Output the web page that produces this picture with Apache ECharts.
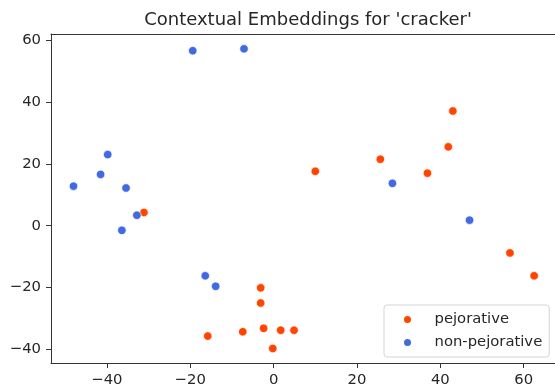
<!DOCTYPE html>
<html>
<head>
    <meta charset="UTF-8">
    <title>Contextual Embeddings</title>
    <style>
        body,
        html {
            width: 100%;
            height: 100%;
            margin: 0;
            padding: 0;
            background: #fff;
        }
        #myChart {
            width: 555px;
            height: 389px;
        }
    </style>
    <script src="https://cdn.jsdelivr.net/npm/echarts@6/dist/echarts.min.js"></script>
</head>
<body>
    <div id="myChart"></div>
    <script>
        // 数据
        let pejorativeX = [-31.1, -3.1, -3.1, -2.4, -7.4, -15.8, -0.2, 1.7, 4.9, 56.7, 62.5, 10.0, 25.6, 36.9, 41.9, 43.0];
        let pejorativeY = [4.3, -20.1, -25.0, -33.2, -34.3, -35.7, -39.7, -33.8, -33.8, -8.8, -16.2, 17.6, 21.5, 17.0, 25.5, 37.1];
        let nonPejX = [-19.4, -7.1, -39.8, -41.5, -48.0, -35.4, -32.8, -36.4, -16.4, -13.9, 28.5, 47.0];
        let nonPejY = [56.6, 57.2, 23.0, 16.6, 12.8, 12.2, 3.4, -1.5, -16.2, -19.6, 13.7, 1.8];
        let xTicks = [-40, -20, 0, 20, 40, 60];
        let yTicks = [-40, -20, 0, 20, 40, 60];

        let font = 'DejaVu Sans';
        let ink = '#262626';
        let fmt = v => v < 0 ? '\u2212' + Math.abs(v) : String(v);
        let pairs = (xs, ys) => xs.map((x, i) => [x, ys[i]]);

        let myEcharts = echarts.init(document.querySelector('#myChart'));

        let axisBase = {
            type: 'value',
            splitLine: { show: false },
            axisLine: { show: true, onZero: false, lineStyle: { color: '#333', width: 1 } },
            axisTick: { show: true, length: 5, lineStyle: { color: '#333' } },
            axisLabel: { fontFamily: font, fontSize: 14.8, color: ink, margin: 10, formatter: fmt }
        };

        let option = {
            animation: false,
            title: {
                text: "Contextual Embeddings for 'cracker'",
                left: 303,
                textAlign: 'center',
                top: 6,
                textStyle: { fontFamily: font, fontSize: 18, fontWeight: 'normal', color: ink }
            },
            grid: { left: 51, right: 0, top: 34, bottom: 26 },
            legend: {
                orient: 'vertical',
                left: 384,
                top: 305,
                padding: [6, 7, 6, 18],
                itemWidth: 14,
                itemHeight: 9,
                itemGap: 6,
                backgroundColor: '#fff',
                borderColor: '#d5d5d5',
                borderWidth: 1,
                borderRadius: 3,
                textStyle: { fontFamily: font, fontSize: 14.8, color: ink, lineHeight: 17, padding: [0, 0, 0, 15] },
                data: [
                    { name: 'pejorative', icon: 'circle' },
                    { name: 'non-pejorative', icon: 'circle' }
                ]
            },
            xAxis: [
                Object.assign({}, axisBase, {
                    min: -53.4, max: 67.5,
                    axisTick: Object.assign({}, axisBase.axisTick, { customValues: xTicks }),
                    axisLabel: Object.assign({}, axisBase.axisLabel, { customValues: xTicks })
                }),
                {
                    type: 'value', position: 'top', min: -53.4, max: 67.5,
                    axisLine: { show: true, onZero: false, lineStyle: { color: '#333', width: 1 } },
                    axisTick: { show: false }, axisLabel: { show: false }, splitLine: { show: false }
                }
            ],
            yAxis: Object.assign({}, axisBase, {
                min: -44.4, max: 62.0,
                axisTick: Object.assign({}, axisBase.axisTick, { customValues: yTicks }),
                axisLabel: Object.assign({}, axisBase.axisLabel, { customValues: yTicks })
            }),
            series: [
                {
                    name: 'pejorative',
                    type: 'scatter',
                    symbolSize: 8.5,
                    itemStyle: { color: '#ff4500', borderColor: '#fff', borderWidth: 0.7, opacity: 1 },
                    data: pairs(pejorativeX, pejorativeY)
                },
                {
                    name: 'non-pejorative',
                    type: 'scatter',
                    symbolSize: 8.5,
                    itemStyle: { color: '#4169e1', borderColor: '#fff', borderWidth: 0.7, opacity: 1 },
                    data: pairs(nonPejX, nonPejY)
                }
            ]
        };
        myEcharts.setOption(option, true);
    </script>
</body>
</html>
